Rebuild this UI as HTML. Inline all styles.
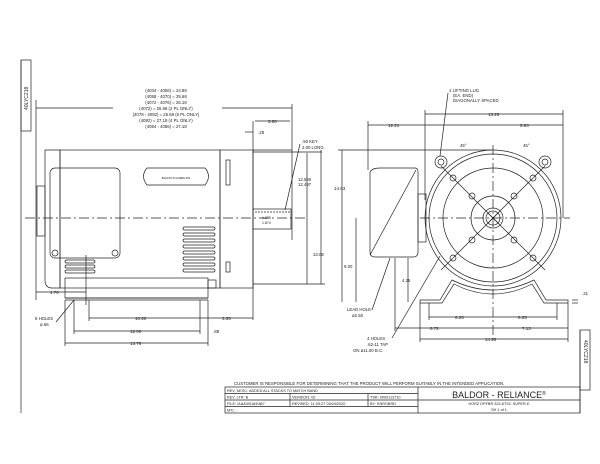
<!DOCTYPE html>
<html><head><meta charset="utf-8"><style>
html,body{margin:0;padding:0;background:#fff;width:600px;height:464px;overflow:hidden}
svg{display:block}
text{font-family:"Liberation Sans",sans-serif;fill:#222}
</style></head><body>
<svg width="600" height="464" viewBox="0 0 600 464" xmlns="http://www.w3.org/2000/svg" stroke="#222" fill="none" stroke-width="0.7">
<line x1="21" y1="60" x2="21" y2="413"/>
<rect x="21" y="60" width="10" height="71"/>
<text x="0" y="0" font-size="5" stroke="none" transform="translate(28,110) rotate(-90)">40LYC218</text>
<line x1="580" y1="330" x2="580" y2="413"/>
<rect x="580" y="330" width="10" height="60"/>
<text x="0" y="0" font-size="5" stroke="none" transform="translate(584,340) rotate(90)">40LYC218</text>

<g font-size="4.3" stroke="none" text-anchor="middle">
<text x="166" y="92">(4034 - 4056) = 24.88</text>
<text x="166" y="98">(4058 - 4070) = 25.68</text>
<text x="166" y="104">(4072 - 4076) = 26.18</text>
<text x="166" y="110">(4072) = 26.68 (2 PL ONLY)</text>
<text x="166" y="116">(4078 - 4082) = 26.68 (6 PL ONLY)</text>
<text x="166" y="122">(4082) = 27.18 (4 PL ONLY)</text>
<text x="166" y="128">(4084 - 4086) = 27.18</text>
</g>
<line x1="36" y1="108" x2="113" y2="108"/><line x1="222" y1="108" x2="292" y2="108"/>
<line x1="36" y1="100" x2="36" y2="300"/><line x1="292" y1="104" x2="292" y2="240"/>
<line x1="255" y1="121" x2="290" y2="121"/><text x="268" y="123" font-size="4.5" stroke="none">3.50</text>
<line x1="253" y1="121" x2="253" y2="320"/>
<line x1="245" y1="132" x2="253" y2="132"/><text x="258" y="134" font-size="4.5" stroke="none">.25</text>

<path d="M45 150 H60 V288 H52 Q45 288 45 280 Z"/>
<rect x="37" y="186" width="8" height="50"/>
<rect x="60" y="150" width="160" height="138"/>
<rect x="50" y="168" width="70" height="90" rx="5"/>
<circle cx="55" cy="253" r="3"/><circle cx="115" cy="253" r="3"/>
<g>
<rect x="65" y="260" width="30" height="3" rx="1.5"/><rect x="65" y="265" width="30" height="3" rx="1.5"/><rect x="65" y="270" width="30" height="3" rx="1.5"/>
<rect x="183" y="227" width="32" height="3" rx="1.5"/><rect x="183" y="233" width="32" height="3" rx="1.5"/><rect x="183" y="239" width="32" height="3" rx="1.5"/><rect x="183" y="245" width="32" height="3" rx="1.5"/><rect x="183" y="251" width="32" height="3" rx="1.5"/><rect x="183" y="257" width="32" height="3" rx="1.5"/><rect x="183" y="263" width="32" height="3" rx="1.5"/><rect x="183" y="269" width="32" height="3" rx="1.5"/>
</g>
<path d="M147 168 H205 Q212 176 205 185 H147 Q140 176 147 168 Z"/>
<text x="176" y="179" font-size="2.5" stroke="none" text-anchor="middle">BALDOR-R NAMEPLATE</text>
<rect x="220" y="150" width="33" height="138"/>
<rect x="226" y="160" width="4" height="25"/><rect x="226" y="262" width="4" height="10"/>
<line x1="253" y1="152" x2="322" y2="152"/><line x1="253" y1="150" x2="292" y2="150"/>
<rect x="253" y="209" width="38" height="20"/>
<line x1="255" y1="212" x2="290" y2="212" stroke-dasharray="2 1"/>
<text x="262" y="219" font-size="3.5" stroke="none">1.875</text><text x="262" y="224" font-size="3.5" stroke="none">1.874</text>
<line x1="25" y1="218" x2="305" y2="218" stroke-dasharray="10 3 2 3"/>
<rect x="65" y="278" width="143" height="20"/>
<line x1="65" y1="298" x2="208" y2="298"/><line x1="65" y1="300" x2="208" y2="300"/>
<rect x="208" y="280" width="8" height="8"/>
<line x1="36" y1="292" x2="86" y2="292"/><text x="50" y="294" font-size="4.5" stroke="none">4.76</text>
<line x1="86" y1="255" x2="86" y2="305"/>
<line x1="89" y1="318" x2="253" y2="318"/><text x="135" y="320" font-size="4.5" stroke="none">10.50</text><text x="222" y="320" font-size="4.5" stroke="none">3.35</text>
<line x1="74" y1="331" x2="200" y2="331"/><text x="130" y="333" font-size="4.5" stroke="none">12.00</text><text x="213" y="333" font-size="4.5" stroke="none">.88</text>
<line x1="65" y1="343" x2="208" y2="343"/><text x="130" y="345" font-size="4.5" stroke="none">13.76</text>
<line x1="65" y1="300" x2="65" y2="346"/><line x1="208" y1="300" x2="208" y2="346"/>
<line x1="74" y1="300" x2="74" y2="334"/><line x1="200" y1="300" x2="200" y2="334"/><line x1="89" y1="300" x2="89" y2="321"/>
<text x="35" y="320" font-size="4.3" stroke="none">8 HOLES</text><text x="40" y="326" font-size="4.3" stroke="none">ø.66</text>
<line x1="56" y1="322" x2="74" y2="300"/>
<text x="302" y="143" font-size="4.3" stroke="none">.50 KEY</text><text x="302" y="149" font-size="4.3" stroke="none">2.00 LONG</text>
<line x1="300" y1="144" x2="285" y2="210"/>
<line x1="307" y1="153" x2="307" y2="284"/><text x="298" y="181" font-size="4.3" stroke="none">12.500</text><text x="298" y="186" font-size="4.3" stroke="none">12.497</text>
<line x1="321" y1="150" x2="321" y2="284"/><text x="313" y="256" font-size="4.3" stroke="none">13.08</text>
<line x1="253" y1="284" x2="325" y2="284"/>

<line x1="342" y1="150" x2="342" y2="302"/><text x="334" y="190" font-size="4.5" stroke="none">14.63</text>
<line x1="338" y1="150" x2="493" y2="150"/>
<line x1="356" y1="218" x2="356" y2="302"/><text x="344" y="268" font-size="4.3" stroke="none">9.00</text>
<line x1="408" y1="258" x2="408" y2="302"/><text x="402" y="282" font-size="4.3" stroke="none">4.25</text>
<path d="M370 172 Q372 168 380 168 H415 Q418 168 418 172 V252 Q418 257 413 257 H375 Q370 257 370 252 Z"/>
<line x1="370" y1="255" x2="416" y2="170"/>
<rect x="418" y="194" width="8" height="48"/>
<circle cx="493" cy="218" r="68"/><circle cx="493" cy="218" r="64"/>
<circle cx="493" cy="218" r="50"/><circle cx="493" cy="218" r="22"/>
<circle cx="493" cy="218" r="10"/><circle cx="493" cy="218" r="7"/>
<line x1="488" y1="213" x2="498" y2="223"/><line x1="498" y1="213" x2="488" y2="223"/>
<g>
<circle cx="441" cy="162" r="6"/><circle cx="441" cy="162" r="3"/>
<circle cx="545" cy="162" r="6"/><circle cx="545" cy="162" r="3"/>
<circle cx="453" cy="178" r="3"/><circle cx="533" cy="178" r="3"/>
<circle cx="453" cy="258" r="3"/><circle cx="533" cy="258" r="3"/>
<circle cx="472" cy="196" r="3"/><circle cx="514" cy="196" r="3"/>
<circle cx="472" cy="240" r="3"/><circle cx="514" cy="240" r="3"/>
</g>
<line x1="441" y1="166" x2="545" y2="270"/><line x1="545" y1="166" x2="441" y2="270"/>
<line x1="420" y1="218" x2="570" y2="218" stroke-dasharray="10 3 2 3"/>
<line x1="493" y1="145" x2="493" y2="340" stroke-dasharray="10 3 2 3"/>
<path d="M420 300 H440 L452 280 Q493 300 534 280 L546 300 H568 V303 H544 L532 284 Q493 304 454 284 L442 303 H420 Z"/>
<line x1="425" y1="114" x2="563" y2="114"/><text x="488" y="116" font-size="4.5" stroke="none">13.25</text>
<line x1="368" y1="125" x2="563" y2="125"/><text x="388" y="127" font-size="4.5" stroke="none">12.21</text><text x="520" y="127" font-size="4.5" stroke="none">5.63</text>
<line x1="425" y1="110" x2="425" y2="200"/><line x1="563" y1="110" x2="563" y2="218"/><line x1="368" y1="121" x2="368" y2="170"/>
<line x1="429" y1="317" x2="557" y2="317"/><text x="455" y="319" font-size="4.5" stroke="none">6.25</text><text x="518" y="319" font-size="4.5" stroke="none">6.25</text>
<line x1="395" y1="328" x2="568" y2="328"/><text x="430" y="330" font-size="4.5" stroke="none">6.72</text><text x="522" y="330" font-size="4.5" stroke="none">7.13</text>
<line x1="420" y1="339" x2="568" y2="339"/><text x="485" y="341" font-size="4.5" stroke="none">14.25</text>
<line x1="420" y1="303" x2="420" y2="342"/><line x1="568" y1="303" x2="568" y2="342"/><line x1="429" y1="303" x2="429" y2="320"/><line x1="557" y1="303" x2="557" y2="320"/><line x1="395" y1="258" x2="395" y2="331"/>
<line x1="572" y1="300" x2="578" y2="300"/><line x1="572" y1="303" x2="578" y2="303"/><text x="582" y="295" font-size="4.3" stroke="none">.31</text>
<text x="449" y="92" font-size="4.3" stroke="none">1 LIFTING LUG</text><text x="453" y="97" font-size="4.3" stroke="none">(EA. END)</text><text x="453" y="102" font-size="4.3" stroke="none">DIAGONALLY SPACED</text>
<line x1="448" y1="93" x2="440" y2="156"/>
<text x="460" y="147" font-size="4.3" stroke="none">45°</text><text x="523" y="147" font-size="4.3" stroke="none">45°</text>
<text x="347" y="311" font-size="4.3" stroke="none">LEAD HOLE</text><text x="352" y="317" font-size="4.3" stroke="none">ø2.50</text>
<line x1="372" y1="310" x2="390" y2="258"/>
<text x="367" y="340" font-size="4.3" stroke="none">4 HOLES</text><text x="367" y="346" font-size="4.3" stroke="none">.62-11 TAP</text><text x="353" y="352" font-size="4.3" stroke="none">ON ø11.00 B.C.</text>
<line x1="392" y1="338" x2="440" y2="256"/>

<text x="234" y="385" font-size="4.3" stroke="none">CUSTOMER IS RESPONSIBLE FOR DETERMINING THAT THE PRODUCT WILL PERFORM SUITABLY IN THE INTENDED APPLICATION.</text>
<rect x="225" y="387" width="355" height="26"/>
<line x1="418" y1="387" x2="418" y2="413"/>
<line x1="225" y1="393.5" x2="418" y2="393.5"/><line x1="225" y1="400" x2="580" y2="400"/><line x1="225" y1="406.5" x2="418" y2="406.5"/>
<line x1="290" y1="393.5" x2="290" y2="406.5"/><line x1="368" y1="393.5" x2="368" y2="406.5"/>
<g font-size="3.8" stroke="none">
<text x="227" y="392">REV. DESC: ADDED ALL STACKS TO MATCH BAND</text>
<text x="227" y="398.5">REV. LTR: B</text><text x="292" y="398.5">VERSION: 02</text><text x="370" y="398.5">TSR: 0000113710</text>
<text x="227" y="405">FILE: \AAA\00184\867</text><text x="292" y="405">REVISED: 11:05:27 03/04/2020</text><text x="370" y="405">BY: ENRGBRD</text>
<text x="227" y="411.5">MTL: -</text>
<text x="499" y="405" text-anchor="middle">HORZ DPFBR 324-6TSC SUPER-E</text>
<text x="499" y="411" text-anchor="middle">SH 1 of 1</text>
</g>
<text x="499" y="398" font-size="9" stroke="none" text-anchor="middle">BALDOR - RELIANCE<tspan font-size="5" dy="-3">®</tspan></text>
</svg>
</body></html>
